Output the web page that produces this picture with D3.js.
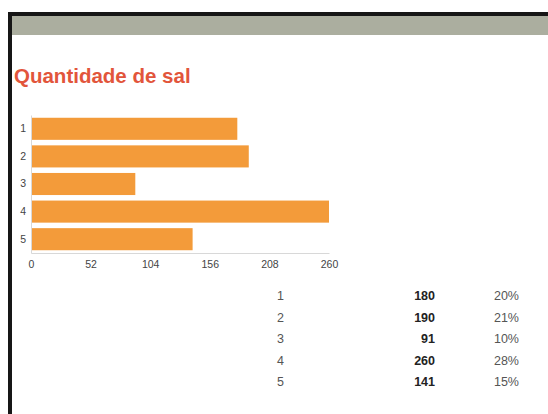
<!DOCTYPE html>
<html>
<head>
<meta charset="utf-8">
<script src="https://cdn.jsdelivr.net/npm/d3@7"></script>
<style>
  html, body { margin: 0; padding: 0; background: #fff; overflow: hidden; width: 548px; height: 414px; }
  svg { display: block; overflow: hidden; }
</style>
</head>
<body>
<svg id="chart" width="548" height="414" viewBox="0 0 548 414"></svg>
<script>
// Respostas: quantidade de sal (escala 1–5)
const categories = ["1", "2", "3", "4", "5"];
const counts = [180, 190, 91, 260, 141];
const percents = ["20%", "21%", "10%", "28%", "15%"];
const xTicks = [0, 52, 104, 156, 208, 260];

const svg = d3.select("#chart");
const font = "'Liberation Sans', Arial, sans-serif";

svg.append("rect").attr("width", 548).attr("height", 414).attr("fill", "#fff");

// Page frame (left and top edges) and header band
svg.append("rect").attr("x", 8).attr("y", 12).attr("width", 4).attr("height", 402).attr("fill", "#161616");
svg.append("rect").attr("x", 8).attr("y", 12).attr("width", 540).attr("height", 4).attr("fill", "#161616");
svg.append("rect").attr("x", 12).attr("y", 16).attr("width", 536).attr("height", 19)
  .attr("fill", "#abae9f");

svg.append("text").attr("x", 14).attr("y", 83)
  .attr("font-family", font).attr("font-size", 20.5).attr("font-weight", "bold")
  .attr("fill", "#e2553b").text("Quantidade de sal");

// Bar chart
const plotLeft = 31, plotRight = 329, plotTop = 115, plotBottom = 253;
const x = d3.scaleLinear().domain([0, 260]).range([plotLeft, plotRight]);
const y = d3.scaleBand().domain(categories).range([plotTop, plotBottom]).paddingInner(0.2).paddingOuter(0.1);

svg.append("g").selectAll("rect").data(categories).join("rect")
  .attr("x", x(0) + 0.5)
  .attr("y", d => y(d))
  .attr("width", (d, i) => x(counts[i]) - x(0) - 0.5)
  .attr("height", y.bandwidth())
  .attr("fill", "#f39b3a");

const xAxis = svg.append("g").attr("transform", `translate(0,${plotBottom})`)
  .call(d3.axisBottom(x).tickValues(xTicks).tickSize(0).tickPadding(8));
xAxis.select(".domain").attr("stroke", "#d8d8d8");
xAxis.selectAll("text").attr("font-family", font).attr("font-size", 10.5).attr("fill", "#444");

const yAxis = svg.append("g").attr("transform", `translate(${plotLeft},0)`)
  .call(d3.axisLeft(y).tickSize(0).tickPadding(5));
yAxis.select(".domain").attr("stroke", "#d8d8d8");
yAxis.selectAll("text").attr("font-family", font).attr("font-size", 10.5).attr("fill", "#444");

// Summary table
const rowY = d3.scalePoint().domain(categories).range([296, 382]);
const table = svg.append("g").attr("font-family", font).attr("font-size", 12.5);

table.selectAll("text.cat").data(categories).join("text").attr("class", "cat")
  .attr("x", 277).attr("y", d => rowY(d)).attr("dy", "0.35em")
  .attr("fill", "#555").text(d => d);

table.selectAll("text.count").data(categories).join("text").attr("class", "count")
  .attr("x", 435).attr("y", d => rowY(d)).attr("dy", "0.35em")
  .attr("text-anchor", "end").attr("font-weight", "bold").attr("fill", "#222")
  .text((d, i) => counts[i]);

table.selectAll("text.pct").data(categories).join("text").attr("class", "pct")
  .attr("x", 519).attr("y", d => rowY(d)).attr("dy", "0.35em")
  .attr("text-anchor", "end").attr("fill", "#555")
  .text((d, i) => percents[i]);
</script>
</body>
</html>
